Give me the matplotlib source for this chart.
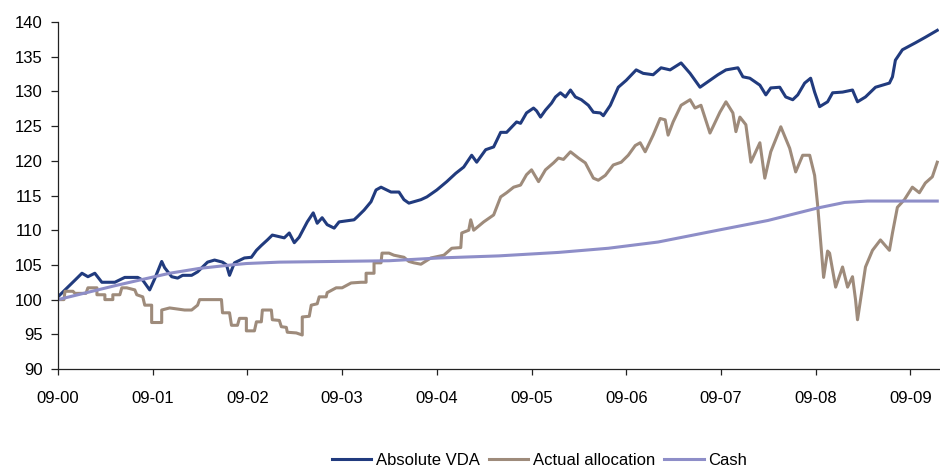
import matplotlib
matplotlib.use("Agg")
import matplotlib.pyplot as plt

plt.rcParams['font.family'] = ['Liberation Sans', 'DejaVu Sans']

# time axis: years since Sep 2000
vda_t = [0.000, 0.074, 0.179, 0.253, 0.316, 0.389, 0.463, 0.600, 0.705, 0.842,
         0.895, 0.968, 1.021, 1.095, 1.126, 1.200, 1.263, 1.316, 1.411, 1.474,
         1.579, 1.653, 1.737, 1.779, 1.811, 1.863, 1.968, 2.042, 2.095, 2.147,
         2.211, 2.263, 2.389, 2.442, 2.495, 2.547, 2.632, 2.695, 2.737, 2.789,
         2.842, 2.916, 2.968, 3.126, 3.158, 3.232, 3.305, 3.358, 3.411, 3.516,
         3.600, 3.653, 3.705, 3.832, 3.895, 4.000, 4.105, 4.200, 4.284, 4.368,
         4.421, 4.516, 4.600, 4.674, 4.737, 4.779, 4.842, 4.884, 4.947, 5.021,
         5.053, 5.095, 5.147, 5.211, 5.253, 5.305, 5.358, 5.411, 5.463, 5.526,
         5.600, 5.653, 5.726, 5.758, 5.832, 5.916, 6.000, 6.105, 6.179, 6.284,
         6.368, 6.463, 6.579, 6.674, 6.779, 6.863, 6.968, 7.053, 7.179, 7.232,
         7.305, 7.411, 7.474, 7.526, 7.621, 7.684, 7.758, 7.811, 7.884, 7.947,
         7.989, 8.042, 8.126, 8.179, 8.284, 8.389, 8.442, 8.526, 8.632, 8.779,
         8.811, 8.842, 8.916, 9.053, 9.158, 9.284]
vda_v = [100.4, 101.4, 102.8, 103.8, 103.3, 103.8, 102.5, 102.5, 103.2, 103.2,
         102.8, 101.4, 103.0, 105.5, 104.6, 103.3, 103.1, 103.5, 103.5, 104.0,
         105.4, 105.7, 105.4, 105.0, 103.5, 105.3, 106.0, 106.1, 107.1, 107.8,
         108.6, 109.3, 108.9, 109.6, 108.2, 109.0, 111.2, 112.5, 111.0, 111.8,
         110.8, 110.3, 111.2, 111.5, 111.9, 112.9, 114.1, 115.8, 116.2, 115.5,
         115.5, 114.4, 113.9, 114.4, 114.8, 115.8, 117.0, 118.2, 119.1, 120.8,
         119.8, 121.6, 122.0, 124.1, 124.1, 124.7, 125.6, 125.4, 126.9, 127.6,
         127.2, 126.3, 127.3, 128.3, 129.2, 129.8, 129.2, 130.2, 129.2, 128.8,
         128.0, 127.0, 126.9, 126.5, 128.0, 130.6, 131.6, 133.1, 132.6, 132.4,
         133.4, 133.1, 134.1, 132.6, 130.6, 131.4, 132.4, 133.1, 133.4, 132.1,
         131.9, 130.9, 129.5, 130.5, 130.6, 129.2, 128.8, 129.5, 131.2, 131.9,
         129.9, 127.8, 128.5, 129.8, 129.9, 130.2, 128.5, 129.2, 130.6, 131.2,
         132.1, 134.5, 136.0, 137.0, 137.8, 138.8]

alloc_t = [0.000, 0.063, 0.074, 0.158, 0.179, 0.295, 0.316, 0.411, 0.411, 0.495,
           0.495, 0.579, 0.579, 0.653, 0.674, 0.726, 0.811, 0.832, 0.895, 0.916,
           0.989, 0.989, 1.095, 1.095, 1.179, 1.337, 1.411, 1.474, 1.495, 1.726,
           1.737, 1.811, 1.832, 1.895, 1.916, 1.989, 1.989, 2.074, 2.095, 2.147,
           2.158, 2.253, 2.263, 2.337, 2.358, 2.411, 2.421, 2.516, 2.579, 2.579,
           2.653, 2.674, 2.737, 2.758, 2.832, 2.842, 2.937, 3.000, 3.095, 3.200,
           3.253, 3.253, 3.337, 3.337, 3.411, 3.421, 3.495, 3.547, 3.653, 3.705,
           3.758, 3.832, 3.937, 4.074, 4.158, 4.253, 4.263, 4.337, 4.358, 4.389,
           4.495, 4.600, 4.674, 4.737, 4.811, 4.884, 4.947, 5.000, 5.074, 5.147,
           5.232, 5.284, 5.337, 5.411, 5.495, 5.568, 5.653, 5.705, 5.779, 5.863,
           5.947, 6.021, 6.095, 6.147, 6.200, 6.284, 6.358, 6.411, 6.442, 6.495,
           6.579, 6.674, 6.726, 6.789, 6.884, 6.916, 6.989, 7.053, 7.126, 7.158,
           7.200, 7.263, 7.316, 7.411, 7.463, 7.526, 7.632, 7.726, 7.789, 7.863,
           7.937, 7.989, 8.021, 8.053, 8.084, 8.126, 8.147, 8.211, 8.284, 8.337,
           8.389, 8.421, 8.442, 8.474, 8.526, 8.600, 8.684, 8.779, 8.811, 8.863,
           8.937, 9.021, 9.095, 9.158, 9.232, 9.284]
alloc_v = [100.0, 100.0, 101.2, 101.2, 100.9, 100.9, 101.7, 101.7, 100.7, 100.7,
           100.0, 100.0, 100.7, 100.7, 101.7, 101.7, 101.4, 100.7, 100.4, 99.2,
           99.2, 96.7, 96.7, 98.5, 98.8, 98.5, 98.5, 99.2, 100.0, 100.0,
           98.1, 98.1, 96.3, 96.3, 97.3, 97.3, 95.5, 95.5, 96.8, 96.8,
           98.5, 98.5, 97.1, 97.0, 96.1, 96.0, 95.3, 95.2, 94.9, 97.5,
           97.6, 99.2, 99.4, 100.4, 100.4, 101.0, 101.7, 101.7, 102.4, 102.5,
           102.5, 103.8, 103.8, 105.3, 105.3, 106.7, 106.7, 106.4, 106.1, 105.5,
           105.3, 105.1, 106.0, 106.4, 107.4, 107.5, 109.6, 110.0, 111.5, 110.0,
           111.2, 112.2, 114.8, 115.4, 116.2, 116.5, 118.0, 118.7, 117.0, 118.7,
           119.7, 120.4, 120.2, 121.3, 120.4, 119.7, 117.5, 117.2, 117.9, 119.4,
           119.8, 120.8, 122.2, 122.6, 121.3, 123.7, 126.1, 125.9, 123.7, 125.6,
           128.0, 128.8, 127.6, 128.0, 124.0, 124.9, 127.0, 128.5, 126.9, 124.2,
           126.3, 125.2, 119.8, 122.6, 117.5, 121.3, 124.9, 121.8, 118.4, 120.8,
           120.8, 117.9, 113.6, 108.3, 103.2, 107.0, 106.7, 101.8, 104.7, 101.8,
           103.3, 100.0, 97.1, 100.0, 104.7, 107.1, 108.6, 107.1, 109.6, 113.3,
           114.4, 116.2, 115.4, 116.8, 117.7, 119.8]

cash_t = [0.000, 0.600, 1.179, 1.495, 1.832, 1.989, 2.337, 3.495, 4.021, 4.653,
          5.284, 5.811, 6.337, 6.968, 7.495, 8.021, 8.305, 8.547, 9.284]
cash_v = [100.0, 102.0, 103.8, 104.5, 105.0, 105.2, 105.4, 105.6, 106.0, 106.3,
          106.8, 107.4, 108.3, 110.0, 111.4, 113.2, 114.0, 114.2, 114.2]

year_ticks = list(range(10))
year_labels = [f"09-{y:02d}" for y in year_ticks]

fig = plt.figure(figsize=(9.4, 4.68), dpi=100)
ax = fig.add_axes([0.0617, 0.2115, 0.937, 0.7415])

ax.plot(vda_t, vda_v, color='#213B7E', lw=2.2, label='Absolute VDA')
ax.plot(alloc_t, alloc_v, color='#9E8B7B', lw=2.2, label='Actual allocation')
ax.plot(cash_t, cash_v, color='#8E8EC8', lw=2.2, label='Cash')

ax.set_xlim(0, 9.3)
ax.set_ylim(90, 140)
ax.set_yticks(range(90, 141, 5))
ax.set_xticks(year_ticks)
ax.set_xticklabels(year_labels)

for side in ('top', 'right'):
    ax.spines[side].set_visible(False)
for side in ('left', 'bottom'):
    ax.spines[side].set_linewidth(0.9)
    ax.spines[side].set_color('#222222')

ax.tick_params(axis='y', length=5, width=0.9, pad=6, labelsize=12, color='#222222')
ax.tick_params(axis='x', length=4, width=0.9, pad=12, labelsize=12, color='#222222')

fig.legend(loc='center', bbox_to_anchor=(0.574, 0.017), ncol=3, frameon=False,
           fontsize=12, handlelength=2.35, handletextpad=0.3, columnspacing=0.55)

fig.savefig('out.png', dpi=100)
